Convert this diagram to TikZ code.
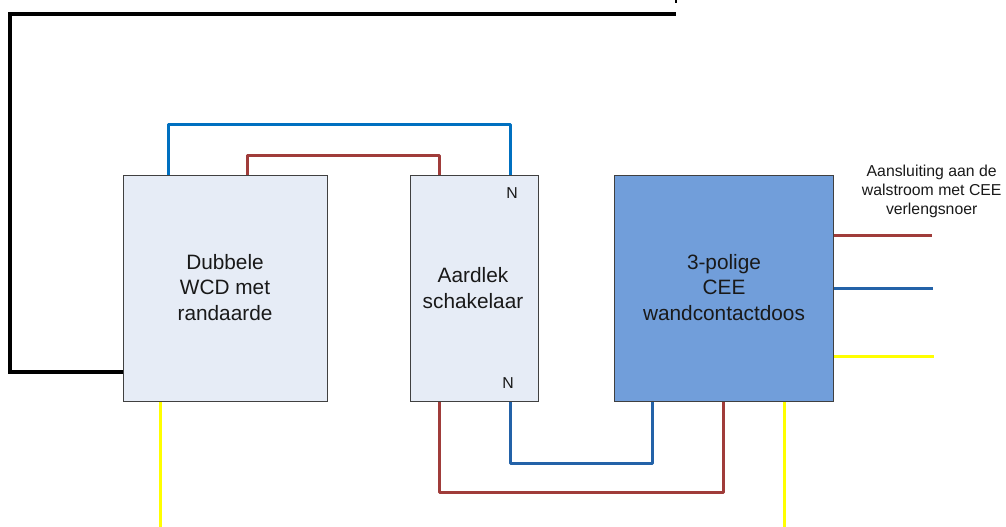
\documentclass[tikz,border=0pt]{standalone}
\usepackage{fontspec}
\setmainfont{Liberation Sans}
\definecolor{lightbox}{RGB}{230,236,246}
\definecolor{bluebox}{RGB}{113,158,218}
\definecolor{wirered}{RGB}{160,60,58}
\definecolor{wireblue}{RGB}{35,98,168}
\definecolor{wirecyan}{RGB}{0,112,192}
\definecolor{wireyellow}{RGB}{255,255,0}
\tikzset{
  x=1pt,y=-1pt,
  unit/.style={draw=black!75,line width=1pt,minimum width=#1,minimum height=226pt,inner sep=0pt,anchor=north west},
  unit/.default=100pt,
  lbl/.style={font=\fontsize{20.8pt}{25.2pt}\selectfont,align=center,text=black!90,inner sep=0pt},
  small/.style={font=\fontsize{15.8pt}{19pt}\selectfont,text=black!90,align=center,inner sep=0pt},
  wire/.style={line width=3pt,line join=round},
}
\begin{document}
\begin{tikzpicture}
\useasboundingbox (0,0) rectangle (1006,527);
% free line ends
\coordinate (blacktop) at (676,14);
\coordinate (ticktop) at (676,0);
\coordinate (tickbot) at (676,3);
\coordinate (yl) at (160,527);
\coordinate (yb) at (784,527);
\coordinate (rr) at (932,235);
\coordinate (rb) at (933,288);
\coordinate (ry) at (934,356);
% boxes
\node[unit=204pt,fill=lightbox] (wcd) at (123,175) {};
\node[unit=128pt,fill=lightbox] (rcd) at (410,175) {};
\node[unit=219pt,fill=bluebox] (cee) at (614,175) {};
% labels
\node[lbl] (wcdt) at (225,287.5) {Dubbele\\WCD met\\randaarde};
\node[lbl] (rcdt) at (473,288) {Aardlek\\schakelaar};
\node[lbl] (ceet) at (724,287.5) {3-polige\\CEE\\wandcontactdoos};
\node[small] (nt) at (512,193.5) {N};
\node[small] (nb) at (508,383) {N};
\node[small] (walt) at (931.7,191) {Aansluiting aan de\\walstroom met CEE\\verlengsnoer};
% top wires
\draw[wire,draw=wirecyan] ([xshift=45pt]wcd.north west) -- ++(0,-51) -| ([xshift=100pt]rcd.north west);
\draw[wire,draw=wirered] ([xshift=124pt]wcd.north west) -- ++(0,-19.5) -| ([xshift=29pt]rcd.north west);
% bottom wires
\draw[wire,draw=wirered] ([xshift=29pt]rcd.south west) -- ++(0,90.5) -| ([xshift=109pt]cee.south west);
\draw[wire,draw=wireblue] ([xshift=100pt]rcd.south west) -- ++(0,61) -| ([xshift=38pt]cee.south west);
\draw[wire,draw=wireyellow] ([xshift=37pt]wcd.south west) -- (yl);
\draw[wire,draw=wireyellow] ([xshift=170pt]cee.south west) -- (yb);
% right wires
\draw[wire,draw=wirered] (cee.east |- rr) -- (rr);
\draw[wire,draw=wireblue] (cee.east |- rb) -- (rb);
\draw[wire,draw=wireyellow] (cee.east |- ry) -- (ry);
% black wire
\draw[line width=3.2pt,line join=miter,draw=black] ([yshift=30pt]wcd.south west) -- ++(-113,0) |- (blacktop);
\draw[line width=2pt,draw=black] (ticktop) -- (tickbot);
\end{tikzpicture}
\end{document}
